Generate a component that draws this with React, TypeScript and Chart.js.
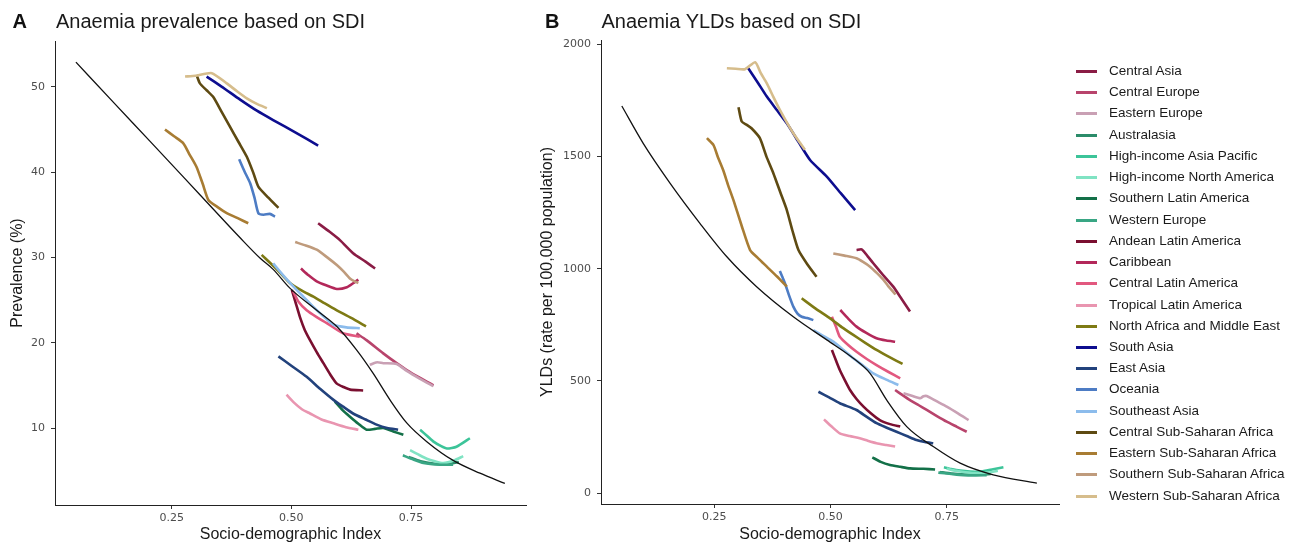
import React, { useEffect, useRef } from "react";
import { Chart, registerables } from "chart.js";

Chart.register(...registerables);

const regionNames = [
  "Central Asia",
  "Central Europe",
  "Eastern Europe",
  "Australasia",
  "High-income Asia Pacific",
  "High-income North America",
  "Southern Latin America",
  "Western Europe",
  "Andean Latin America",
  "Caribbean",
  "Central Latin America",
  "Tropical Latin America",
  "North Africa and Middle East",
  "South Asia",
  "East Asia",
  "Oceania",
  "Southeast Asia",
  "Central Sub-Saharan Africa",
  "Eastern Sub-Saharan Africa",
  "Southern Sub-Saharan Africa",
  "Western Sub-Saharan Africa",
];

const regionColors = [
  "#8a1c45",
  "#b8446c",
  "#c9a0b4",
  "#2b8c6a",
  "#3cc499",
  "#80e3c3",
  "#137048",
  "#39a684",
  "#7a0f30",
  "#b3285a",
  "#e2587f",
  "#e995b0",
  "#7e7a14",
  "#0d0d8f",
  "#22427c",
  "#4d7cc4",
  "#8cbcec",
  "#5e4a12",
  "#a87c33",
  "#bf9b7c",
  "#d6bd8c",
];

const sdiTickValues = [0.25, 0.5, 0.75];
const prevalenceTickValues = [10, 20, 30, 40, 50];
const yldTickValues = [0, 500, 1000, 1500, 2000];

// ---------- Panel A: prevalence (%) vs SDI ----------
const prevCentralAsia = [[0.556, 34.0], [0.58, 33.0], [0.602, 32.0], [0.629, 30.5], [0.655, 29.5], [0.675, 28.7]];
const prevCentralEurope = [[0.636, 21.1], [0.657, 20.3], [0.692, 18.75], [0.72, 17.6], [0.741, 16.8], [0.768, 15.9], [0.797, 15.0]];
const prevEasternEurope = [[0.664, 17.4], [0.672, 17.6], [0.68, 17.7], [0.692, 17.6], [0.72, 17.5], [0.741, 16.7], [0.768, 15.8], [0.797, 14.9]];
const prevAustralasia = [[0.745, 6.6], [0.77, 6.1], [0.8, 5.8], [0.83, 5.8], [0.85, 6.0]];
const prevHighIncomeAsiaPacific = [[0.769, 9.8], [0.785, 9.0], [0.797, 8.4], [0.812, 7.9], [0.825, 7.6], [0.845, 7.8], [0.873, 8.8]];
const prevHighIncomeNorthAmerica = [[0.748, 7.4], [0.765, 6.9], [0.783, 6.4], [0.8, 6.1], [0.817, 5.9], [0.84, 6.2], [0.859, 6.7]];
const prevSouthernLatinAmerica = [[0.591, 13.1], [0.607, 12.1], [0.623, 11.3], [0.64, 10.5], [0.657, 9.8], [0.675, 9.9], [0.692, 10.0], [0.713, 9.6], [0.734, 9.2]];
const prevWesternEurope = [[0.733, 6.8], [0.755, 6.3], [0.776, 5.9], [0.81, 5.7], [0.838, 5.7]];
const prevAndeanLatinAmerica = [[0.501, 26.2], [0.51, 24.5], [0.518, 23.0], [0.528, 21.5], [0.539, 20.3], [0.553, 18.9], [0.567, 17.6], [0.581, 16.3], [0.595, 15.2], [0.609, 14.8], [0.623, 14.5], [0.65, 14.4]];
const prevCaribbean = [[0.52, 28.7], [0.536, 27.9], [0.553, 27.2], [0.574, 26.7], [0.595, 26.3], [0.616, 26.5], [0.63, 27.0], [0.64, 27.4]];
const prevCentralLatinAmerica = [[0.504, 26.0], [0.515, 24.8], [0.532, 23.8], [0.553, 23.0], [0.574, 22.3], [0.608, 21.1], [0.643, 20.7]];
const prevTropicalLatinAmerica = [[0.49, 13.9], [0.505, 13.0], [0.522, 12.2], [0.539, 11.7], [0.563, 11.0], [0.588, 10.55], [0.614, 10.1], [0.64, 9.8]];
const prevNorthAfricaMiddleEast = [[0.438, 30.3], [0.468, 28.7], [0.497, 27.0], [0.522, 26.1], [0.546, 25.4], [0.57, 24.6], [0.595, 23.8], [0.625, 22.9], [0.656, 21.9]];
const prevSouthAsia = [[0.323, 51.2], [0.355, 50.0], [0.393, 48.5], [0.428, 47.2], [0.462, 46.1], [0.51, 44.6], [0.556, 43.1]];
const prevEastAsia = [[0.473, 18.4], [0.5, 17.3], [0.532, 16.0], [0.56, 14.6], [0.588, 13.3], [0.608, 12.5], [0.629, 11.7], [0.655, 11.0], [0.678, 10.4], [0.7, 10.0], [0.723, 9.8]];
const prevOceania = [[0.391, 41.5], [0.402, 40.1], [0.414, 38.7], [0.423, 37.0], [0.431, 35.2], [0.442, 35.0], [0.455, 35.1], [0.466, 34.8]];
const prevSoutheastAsia = [[0.462, 29.3], [0.483, 27.9], [0.504, 26.6], [0.525, 25.4], [0.546, 24.2], [0.567, 23.1], [0.588, 22.1], [0.615, 21.8], [0.643, 21.7]];
const prevCentralSSA = [[0.302, 51.4], [0.309, 50.4], [0.323, 49.6], [0.337, 48.8], [0.355, 47.0], [0.372, 45.3], [0.39, 43.5], [0.407, 41.8], [0.42, 40.0], [0.431, 38.3], [0.452, 37.0], [0.473, 35.8]];
const prevEasternSSA = [[0.236, 45.0], [0.255, 44.2], [0.274, 43.4], [0.288, 42.0], [0.302, 40.6], [0.315, 38.6], [0.327, 36.7], [0.346, 35.9], [0.365, 35.2], [0.388, 34.6], [0.41, 34.0]];
const prevSouthernSSA = [[0.508, 31.8], [0.53, 31.4], [0.553, 30.9], [0.575, 30.0], [0.595, 29.1], [0.61, 28.3], [0.623, 27.5], [0.632, 27.2], [0.64, 27.0]];
const prevWesternSSA = [[0.278, 51.2], [0.3, 51.3], [0.334, 51.6], [0.365, 50.4], [0.386, 49.5], [0.407, 48.65], [0.428, 48.0], [0.449, 47.5]];
const prevExpected = [[0.05, 52.9], [0.128, 48.2], [0.205, 43.6], [0.309, 37.35], [0.393, 32.3], [0.435, 29.9], [0.462, 28.6], [0.497, 26.4], [0.553, 23.8], [0.595, 21.9], [0.637, 19.1], [0.671, 16.4], [0.706, 13.3], [0.741, 10.6], [0.783, 8.4], [0.838, 6.2], [0.894, 4.7], [0.946, 3.5]];

// ---------- Panel B: YLDs (rate per 100,000) vs SDI ----------
const yldCentralAsia = [[0.556, 1083], [0.567, 1086], [0.58, 1055], [0.592, 1024], [0.613, 972], [0.635, 920], [0.653, 865], [0.671, 809]];
const yldCentralEurope = [[0.639, 460], [0.655, 437], [0.671, 415], [0.69, 392], [0.707, 371], [0.728, 345], [0.75, 319], [0.772, 296], [0.793, 274]];
const yldEasternEurope = [[0.657, 445], [0.675, 434], [0.693, 423], [0.7, 432], [0.707, 433], [0.728, 410], [0.75, 386], [0.775, 355], [0.797, 326]];
const yldAustralasia = [[0.735, 95], [0.76, 88], [0.79, 84], [0.82, 83], [0.845, 86]];
const yldHighIncomeAsiaPacific = [[0.744, 116], [0.76, 108], [0.779, 101], [0.8, 97], [0.822, 96], [0.85, 107], [0.872, 116]];
const yldHighIncomeNorthAmerica = [[0.75, 110], [0.77, 100], [0.79, 94], [0.815, 90], [0.84, 92], [0.86, 100]];
const yldSouthernLatinAmerica = [[0.59, 160], [0.608, 140], [0.628, 126], [0.65, 118], [0.671, 111], [0.7, 109], [0.725, 106]];
const yldWesternEurope = [[0.732, 92], [0.76, 86], [0.786, 81], [0.81, 80], [0.836, 81]];
const yldAndeanLatinAmerica = [[0.503, 638], [0.512, 590], [0.52, 549], [0.531, 503], [0.542, 460], [0.556, 420], [0.571, 386], [0.588, 354], [0.606, 326], [0.628, 308], [0.65, 297]];
const yldCaribbean = [[0.521, 816], [0.538, 778], [0.556, 742], [0.577, 714], [0.599, 690], [0.62, 680], [0.639, 675]];
const yldCentralLatinAmerica = [[0.503, 786], [0.512, 740], [0.52, 697], [0.538, 660], [0.556, 630], [0.578, 598], [0.599, 571], [0.625, 540], [0.65, 512]];
const yldTropicalLatinAmerica = [[0.486, 329], [0.503, 296], [0.52, 267], [0.541, 255], [0.563, 245], [0.58, 234], [0.599, 223], [0.62, 215], [0.639, 208]];
const yldNorthAfricaMiddleEast = [[0.438, 868], [0.468, 822], [0.499, 779], [0.524, 740], [0.549, 705], [0.574, 671], [0.599, 638], [0.627, 606], [0.655, 576]];
const yldSouthAsia = [[0.323, 1892], [0.343, 1830], [0.363, 1766], [0.385, 1705], [0.406, 1647], [0.431, 1565], [0.456, 1484], [0.492, 1410], [0.522, 1336], [0.553, 1261]];
const yldEastAsia = [[0.474, 452], [0.497, 427], [0.52, 401], [0.556, 371], [0.578, 340], [0.599, 312], [0.621, 292], [0.642, 274], [0.664, 255], [0.685, 237], [0.703, 228], [0.721, 223]];
const yldOceania = [[0.391, 990], [0.396, 965], [0.402, 935], [0.411, 880], [0.42, 831], [0.429, 800], [0.438, 786], [0.45, 780], [0.463, 771]];
const yldSoutheastAsia = [[0.463, 727], [0.485, 700], [0.506, 675], [0.528, 638], [0.549, 601], [0.571, 567], [0.592, 534], [0.62, 506], [0.646, 482]];
const yldCentralSSA = [[0.302, 1719], [0.309, 1655], [0.32, 1640], [0.33, 1625], [0.348, 1581], [0.362, 1500], [0.377, 1425], [0.392, 1340], [0.406, 1261], [0.418, 1170], [0.431, 1083], [0.45, 1020], [0.47, 964]];
const yldEasternSSA = [[0.234, 1581], [0.248, 1551], [0.258, 1495], [0.269, 1439], [0.28, 1370], [0.291, 1306], [0.309, 1190], [0.327, 1083], [0.345, 1045], [0.363, 1009], [0.385, 965], [0.406, 920]];
const yldSouthernSSA = [[0.506, 1068], [0.53, 1058], [0.556, 1046], [0.57, 1030], [0.585, 1009], [0.6, 980], [0.614, 950], [0.625, 920], [0.64, 885]];
const yldWesternSSA = [[0.277, 1892], [0.296, 1890], [0.316, 1888], [0.338, 1919], [0.35, 1870], [0.363, 1825], [0.377, 1765], [0.391, 1707], [0.405, 1655], [0.42, 1603], [0.445, 1529]];
const yldExpected = [[0.051, 1724], [0.097, 1558], [0.155, 1380], [0.219, 1202], [0.277, 1053], [0.341, 920], [0.42, 786], [0.492, 683], [0.549, 601], [0.585, 534], [0.621, 415], [0.664, 297], [0.721, 208], [0.779, 134], [0.85, 82], [0.944, 45]];

const prevalenceByRegion = [
  prevCentralAsia, prevCentralEurope, prevEasternEurope, prevAustralasia,
  prevHighIncomeAsiaPacific, prevHighIncomeNorthAmerica, prevSouthernLatinAmerica,
  prevWesternEurope, prevAndeanLatinAmerica, prevCaribbean, prevCentralLatinAmerica,
  prevTropicalLatinAmerica, prevNorthAfricaMiddleEast, prevSouthAsia, prevEastAsia,
  prevOceania, prevSoutheastAsia, prevCentralSSA, prevEasternSSA, prevSouthernSSA, prevWesternSSA,
];

const yldByRegion = [
  yldCentralAsia, yldCentralEurope, yldEasternEurope, yldAustralasia,
  yldHighIncomeAsiaPacific, yldHighIncomeNorthAmerica, yldSouthernLatinAmerica,
  yldWesternEurope, yldAndeanLatinAmerica, yldCaribbean, yldCentralLatinAmerica,
  yldTropicalLatinAmerica, yldNorthAfricaMiddleEast, yldSouthAsia, yldEastAsia,
  yldOceania, yldSoutheastAsia, yldCentralSSA, yldEasternSSA, yldSouthernSSA, yldWesternSSA,
];

const SANS = '"Liberation Sans", Arial, sans-serif';
const TICK_FONT = '"DejaVu Sans", sans-serif';

type Box = {
  xMin: number; xMax: number; yMin: number; yMax: number;
  yAxisWidth: number; xAxisHeight: number; padTop: number; padRight: number;
};

function buildConfig(seriesList: number[][][], expected: number[][], yTicks: number[], yTitle: string, box: Box): any {
  const datasets: any[] = seriesList.map((pts, i) => ({
    label: regionNames[i],
    data: pts.map(([x, y]) => ({ x, y })),
    borderColor: regionColors[i],
    backgroundColor: regionColors[i],
    borderWidth: 2.6,
    pointRadius: 0,
    pointHoverRadius: 0,
    tension: 0.2,
    fill: false,
    order: 100 - i,
  }));
  datasets.push({
    label: "Expected by SDI",
    data: expected.map(([x, y]) => ({ x, y })),
    borderColor: "#111111",
    backgroundColor: "#111111",
    borderWidth: 1.3,
    pointRadius: 0,
    pointHoverRadius: 0,
    cubicInterpolationMode: "monotone",
    fill: false,
    order: 0,
  });
  return {
    type: "line",
    data: { datasets },
    options: {
      animation: false,
      responsive: false,
      maintainAspectRatio: false,
      devicePixelRatio: 1,
      events: [],
      layout: { padding: { top: box.padTop, right: box.padRight, left: 0, bottom: 0 } },
      plugins: { legend: { display: false }, tooltip: { enabled: false }, title: { display: false } },
      scales: {
        x: {
          type: "linear",
          min: box.xMin,
          max: box.xMax,
          afterBuildTicks: (s: any) => { s.ticks = sdiTickValues.map((v) => ({ value: v })); },
          afterFit: (s: any) => { s.height = box.xAxisHeight; },
          ticks: {
            callback: (v: any) => Number(v).toFixed(2),
            color: "#4d4d4d",
            font: { family: TICK_FONT, size: 11 },
            padding: 3,
            maxRotation: 0,
            autoSkip: false,
          },
          grid: { display: true, drawOnChartArea: false, drawTicks: true, tickLength: 4, color: "#333333", lineWidth: 1 },
          border: { display: true, color: "#222222", width: 1 },
          title: {
            display: true,
            text: "Socio-demographic Index",
            color: "#1a1a1a",
            font: { family: SANS, size: 16 },
            padding: { top: 0, bottom: 0 },
          },
        },
        y: {
          type: "linear",
          min: box.yMin,
          max: box.yMax,
          afterBuildTicks: (s: any) => { s.ticks = yTicks.map((v) => ({ value: v })); },
          afterFit: (s: any) => { s.width = box.yAxisWidth; },
          ticks: {
            callback: (v: any) => String(v),
            color: "#4d4d4d",
            font: { family: TICK_FONT, size: 11 },
            padding: 6,
            autoSkip: false,
          },
          grid: { display: true, drawOnChartArea: false, drawTicks: true, tickLength: 4, color: "#333333", lineWidth: 1 },
          border: { display: true, color: "#222222", width: 1 },
          title: {
            display: true,
            text: yTitle,
            color: "#1a1a1a",
            font: { family: SANS, size: 16 },
            padding: { top: 8.4, bottom: 0 },
          },
        },
      },
    },
  };
}

function Panel(props: { left: number; width: number; config: () => any }) {
  const ref = useRef<HTMLCanvasElement | null>(null);
  useEffect(() => {
    if (!ref.current) return;
    const chart = new Chart(ref.current, props.config());
    return () => chart.destroy();
  }, []);
  return (
    <canvas
      ref={ref}
      width={props.width}
      height={544}
      style={{ position: "absolute", left: props.left, top: 0, width: props.width, height: 544 }}
    />
  );
}

const tagStyle: React.CSSProperties = {
  position: "absolute",
  top: 11,
  fontFamily: SANS,
  fontSize: 20,
  fontWeight: "bold",
  lineHeight: "20px",
  color: "#111",
  whiteSpace: "nowrap",
};
const titleStyle: React.CSSProperties = {
  position: "absolute",
  top: 11,
  fontFamily: SANS,
  fontSize: 20,
  lineHeight: "20px",
  color: "#1a1a1a",
  whiteSpace: "nowrap",
};

export default function App() {
  const configA = () =>
    buildConfig(prevalenceByRegion, prevExpected, prevalenceTickValues, "Prevalence (%)", {
      xMin: 0.0063, xMax: 0.9902, yMin: 0.973, yMax: 55.37,
      yAxisWidth: 55, xAxisHeight: 39, padTop: 41, padRight: 14,
    });
  const configB = () =>
    buildConfig(yldByRegion, yldExpected, yldTickValues, "YLDs (rate per 100,000 population)", {
      xMin: 0.0062, xMax: 0.9916, yMin: -47.6, yMax: 2018,
      yAxisWidth: 71, xAxisHeight: 40, padTop: 40, padRight: 21,
    });

  return (
    <div style={{ position: "fixed", left: 0, top: 0, width: 1296, height: 544, background: "#ffffff", overflow: "hidden" }}>
      <Panel left={0} width={540} config={configA} />
      <Panel left={530} width={550} config={configB} />
      <div style={{ ...tagStyle, left: 12.5 }}>A</div>
      <div style={{ ...titleStyle, left: 56 }}>Anaemia prevalence based on SDI</div>
      <div style={{ ...tagStyle, left: 545 }}>B</div>
      <div style={{ ...titleStyle, left: 601.5 }}>Anaemia YLDs based on SDI</div>
      {regionNames.map((name, i) => {
        const cy = Math.round(71 + i * 21.23);
        return (
          <React.Fragment key={name}>
            <div style={{ position: "absolute", left: 1076, top: cy - 1, width: 21, height: 3, background: regionColors[i] }} />
            <div
              style={{
                position: "absolute",
                left: 1109,
                top: cy - 8,
                fontFamily: SANS,
                fontSize: 13.5,
                lineHeight: "16px",
                color: "#1a1a1a",
                whiteSpace: "nowrap",
              }}
            >
              {name}
            </div>
          </React.Fragment>
        );
      })}
    </div>
  );
}
